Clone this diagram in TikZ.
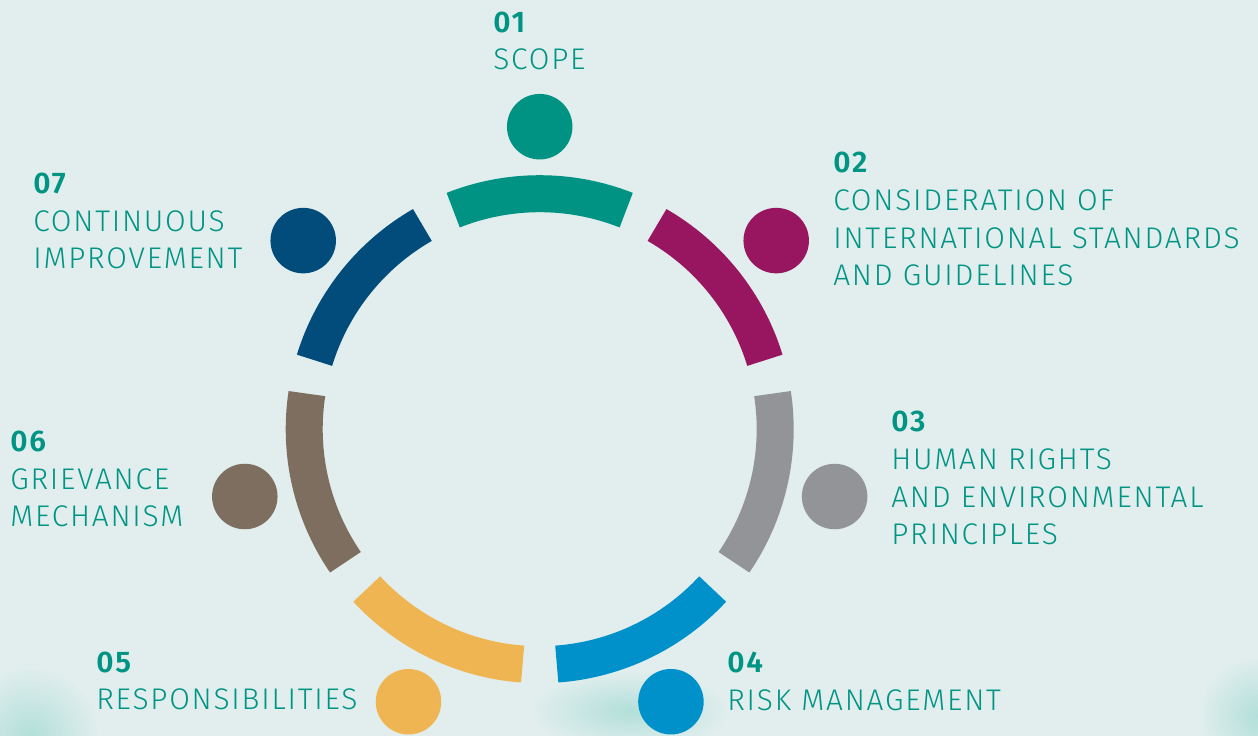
\documentclass[tikz,border=0pt]{standalone}
\usepackage{fontspec}
\setmainfont{Fira Sans}[UprightFont={* Light}, BoldFont={* SemiBold}, LetterSpace=6]
\usepackage{xcolor}

% Farben
\definecolor{bgcol}{HTML}{E1EEED}
\definecolor{blobcol}{HTML}{B2DFDA}
\definecolor{textcol}{HTML}{009485}
\definecolor{cScope}{HTML}{009384}
\definecolor{cStandards}{HTML}{981660}
\definecolor{cRights}{HTML}{939497}
\definecolor{cRisk}{HTML}{0090CA}
\definecolor{cResp}{HTML}{F0B553}
\definecolor{cGrievance}{HTML}{7E6E60}
\definecolor{cImprove}{HTML}{024C7C}

\tikzset{
  ringpart/.style={line width=0.74cm, #1},
  headdot/.style={circle, fill=#1, minimum size=1.31cm, inner sep=0pt},
  itemtext/.style={anchor=base west, align=left, inner sep=0pt, text=textcol,
    font=\fontsize{17}{21.5}\selectfont},
}

\begin{document}
\begin{tikzpicture}[x=0.02cm, y=0.02cm]
    % Hintergrund
    \useasboundingbox (0,0) rectangle (1258,736);
    \fill[bgcol] (0,0) rectangle (1258,736);
    \shade[inner color=blobcol, outer color=bgcol] (30,0) circle (70);
    \shade[inner color=blobcol, outer color=bgcol] (630,25) ellipse (100 and 40);
    \shade[inner color=blobcol, outer color=bgcol] (1258,20) circle (60);

    % Mittelpunkt des Rings
    \coordinate (O) at (539.7,306.8);

    % Ringsegmente
    \draw[ringpart=cScope] ([shift={(68.45:235.5)}]O) arc[start angle=68.45, end angle=111.55, radius=235.5];
    \draw[ringpart=cStandards] ([shift={(17.02:235.5)}]O) arc[start angle=17.02, end angle=60.12, radius=235.5];
    \draw[ringpart=cRights] ([shift={(-34.41:235.5)}]O) arc[start angle=-34.41, end angle=8.69, radius=235.5];
    \draw[ringpart=cRisk] ([shift={(-85.84:235.5)}]O) arc[start angle=-85.84, end angle=-42.74, radius=235.5];
    \draw[ringpart=cResp] ([shift={(-137.26:235.5)}]O) arc[start angle=-137.26, end angle=-94.16, radius=235.5];
    \draw[ringpart=cGrievance] ([shift={(-188.69:235.5)}]O) arc[start angle=-188.69, end angle=-145.59, radius=235.5];
    \draw[ringpart=cImprove] ([shift={(119.88:235.5)}]O) arc[start angle=119.88, end angle=162.98, radius=235.5];

    % Koepfe
    \node[headdot=cScope] (headScope) at ([shift={(90:302.5)}]O) {};
    \node[headdot=cStandards] (headStandards) at ([shift={(38.57:302.5)}]O) {};
    \node[headdot=cRights] (headRights) at ([shift={(-12.86:302.5)}]O) {};
    \node[headdot=cRisk] (headRisk) at ([shift={(-64.29:302.5)}]O) {};
    \node[headdot=cResp] (headResp) at ([shift={(-115.71:302.5)}]O) {};
    \node[headdot=cGrievance] (headGrievance) at ([shift={(-167.14:302.5)}]O) {};
    \node[headdot=cImprove] (headImprove) at ([shift={(141.43:302.5)}]O) {};

    % Beschriftungen (Anker = Grundlinie der letzten Zeile)
    \node[itemtext] (txtScope) at (493,666) {\textbf{01}\\SCOPE};
    \node[itemtext] (txtStandards) at (833,450) {\textbf{02}\\CONSIDERATION OF\\INTERNATIONAL STANDARDS\\AND GUIDELINES};
    \node[itemtext] (txtRights) at (891,191) {\textbf{03}\\HUMAN RIGHTS\\AND ENVIRONMENTAL\\PRINCIPLES};
    \node[itemtext] (txtRisk) at (727,25.5) {\textbf{04}\\RISK MANAGEMENT};
    \node[itemtext] (txtResp) at (96,26) {\textbf{05}\\RESPONSIBILITIES};
    \node[itemtext] (txtGrievance) at (10,209) {\textbf{06}\\GRIEVANCE\\MECHANISM};
    \node[itemtext] (txtImprove) at (33,467) {\textbf{07}\\CONTINUOUS\\IMPROVEMENT};
\end{tikzpicture}
\end{document}
